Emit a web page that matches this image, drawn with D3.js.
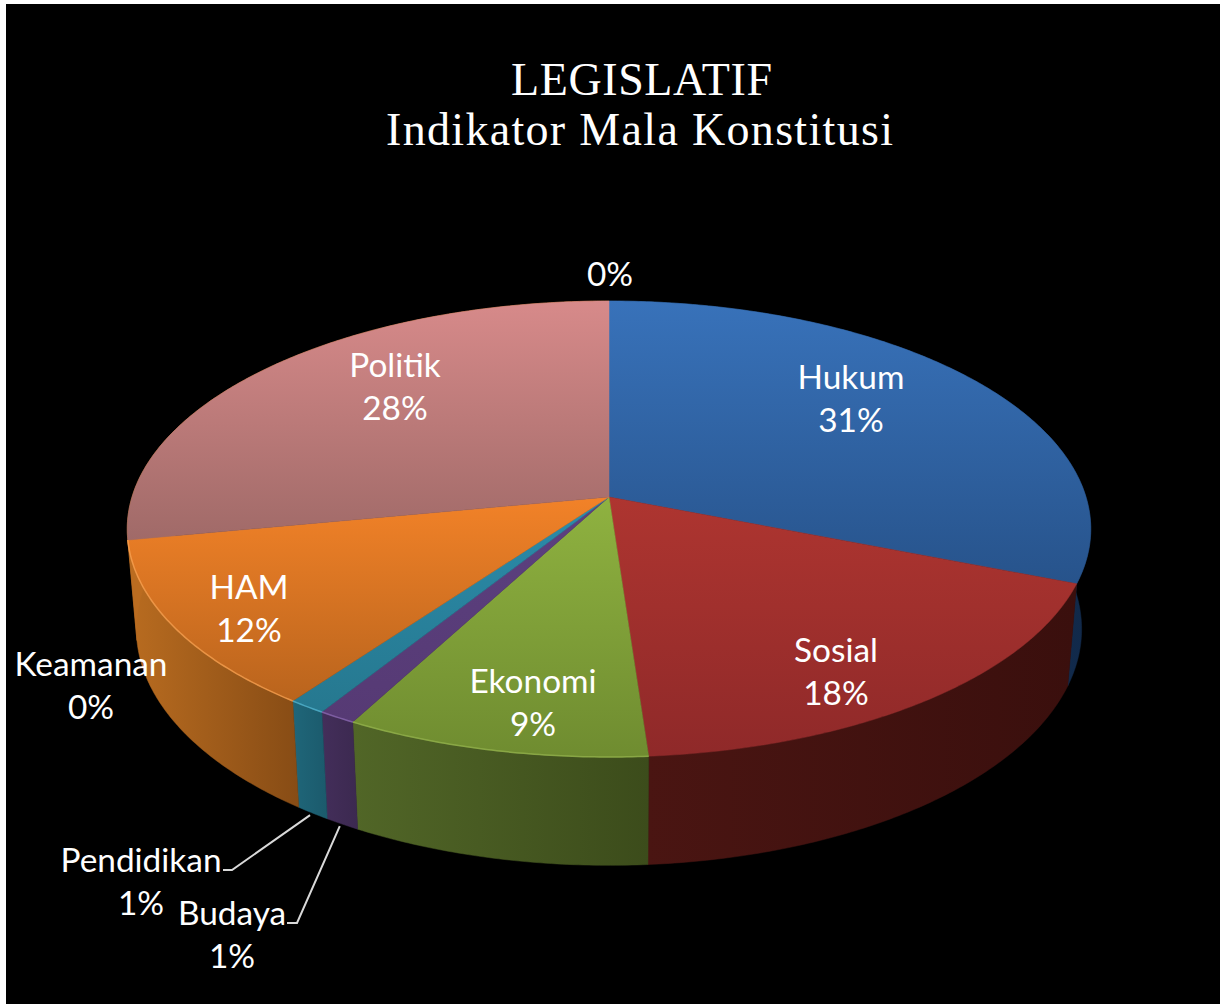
<!DOCTYPE html>
<html>
<head>
<meta charset="utf-8">
<script src="https://cdn.jsdelivr.net/npm/d3@7"></script>
<style>
    html, body { margin: 0; padding: 0; background: #fff; }
    svg { display: block; }
    text { fill: #fff; }
</style>
</head>
<body>
<script>
const categories = ["Hukum", "Sosial", "Ekonomi", "Budaya", "Pendidikan", "HAM", "Keamanan", "Politik", ""]
const values = [31, 17.86, 8.94, 1.1, 1.1, 12, 0, 28, 0]
const titleLines = ["LEGISLATIF", "Indikator Mala Konstitusi"]

// colours: [top face start, top face end, wall start, wall end, rim]
const sliceColors = [
    ["#3872ba", "#27538b", "#173a5e", "#11294a", "none"],
    ["#ae3530", "#8f2929", "#4a1512", "#3a0f0d", "none"],
    ["#8fb240", "#6f8c30", "#516627", "#3c4c1b", "#94b34c"],
    ["#5c4080", "#563a74", "#432e5a", "#3c2950", "#8a68b0"],
    ["#2b8cab", "#26788f", "#1f6679", "#1b5a6c", "#52b4d0"],
    ["#f28228", "#b9641d", "#b96c20", "#874c15", "#f7a050"],
    ["#888", "#888", "#888", "#888", "none"],
    ["#d78a8a", "#a06a68", "#bb6c20", "#bb6c20", "none"],
    ["#888", "#888", "#888", "#888", "none"]
]

// label centres for the first line of each label, in page pixels
const labelPlace = [
    [851, 378], [836, 651], [533, 682], [232, 914], [141, 861],
    [249, 588], [91, 665], [395, 366], [610, 232]
]
const leaderElbows = {
    Budaya: [[297, 923], [287, 923]],
    Pendidikan: [[232, 870], [223, 870]]
}
const titlePlace = [[641.5, 95, 261], [639.5, 145, 507]]

const width = 1220, height = 1004

// perspective of the disc: centre, scale and foreshortening
const cx = 609, cy = 497, A = 477, B = 223.5, persp = 0.1403
// lower disc relative to the upper one
const floorX = 0.981, floorY = 1.036, floorCy = 596

const top2d = (t, r = 1) => {
    const u = r * Math.sin(t), v = -r * Math.cos(t)
    const w = 1 - persp * v
    return [cx + A * u / w, cy + B * v / w]
}
const bottom2d = (t, r = 1) => {
    const [x, y] = top2d(t, r)
    return [cx + floorX * (x - cx), floorCy + floorY * (y - cy)]
}
const arcAngles = (a, b) => {
    const n = Math.max(2, Math.ceil((b - a) / 0.01))
    return d3.range(n + 1).map(i => a + (b - a) * i / n)
}

const svg = d3.select("body").append("svg")
    .attr("width", width)
    .attr("height", height)
svg.append("rect").attr("x", 6).attr("y", 4)
    .attr("width", width - 6).attr("height", height - 4)
    .attr("fill", "#000")

const defs = svg.append("defs")
const line = d3.line()
const slices = d3.pie().sort(null).startAngle(0).endAngle(2 * Math.PI)
    .value(d => d)(values)
    .map((s, i) => ({...s, name: categories[i], color: sliceColors[i], i}))
const drawn = slices.filter(s => s.value > 0)

drawn.forEach(s => {
    const angles = arcAngles(s.startAngle, s.endAngle)
    s.topPts = angles.map(t => top2d(t))
    s.botPts = angles.map(t => bottom2d(t))
    const xs = s.topPts.map(p => p[0]).concat(s.botPts.map(p => p[0]))
    const ys = s.topPts.map(p => p[1]).concat([cy])

    const topGrad = defs.append("linearGradient").attr("id", "top" + s.i)
        .attr("gradientUnits", "userSpaceOnUse")
        .attr("x1", 0).attr("x2", 0)
        .attr("y1", d3.min(ys)).attr("y2", d3.max(ys))
    topGrad.append("stop").attr("offset", 0).attr("stop-color", s.color[0])
    topGrad.append("stop").attr("offset", 1).attr("stop-color", s.color[1])

    const wallGrad = defs.append("linearGradient").attr("id", "wall" + s.i)
        .attr("gradientUnits", "userSpaceOnUse")
        .attr("y1", 0).attr("y2", 0)
        .attr("x1", d3.min(xs)).attr("x2", d3.max(xs))
    wallGrad.append("stop").attr("offset", 0).attr("stop-color", s.color[2])
    wallGrad.append("stop").attr("offset", 1).attr("stop-color", s.color[3])
})

// side walls first, the top faces cover whatever is behind them
svg.append("g").selectAll("path")
    .data(drawn)
    .enter()
    .append("path")
    .attr("d", s => line(s.topPts.concat(s.botPts.slice().reverse())) + "Z")
    .attr("fill", s => `url(#wall${s.i})`)
    .attr("stroke", s => `url(#wall${s.i})`)
    .attr("stroke-width", 0.5)

svg.append("g").selectAll("path")
    .data(drawn)
    .enter()
    .append("path")
    .attr("d", s => line([[cx, cy]].concat(s.topPts)) + "Z")
    .attr("fill", s => `url(#top${s.i})`)
    .attr("stroke", s => `url(#top${s.i})`)
    .attr("stroke-width", 0.5)

// light bevel on the edge of the top face
svg.append("g").selectAll("path")
    .data(drawn)
    .enter()
    .append("path")
    .attr("d", s => line(s.topPts))
    .attr("fill", "none")
    .attr("stroke", s => s.color[4])
    .attr("stroke-width", 1.5)
    .attr("opacity", 0.8)

// leader lines
svg.append("g").selectAll("path")
    .data(drawn.filter(s => leaderElbows[s.name]))
    .enter()
    .append("path")
    .attr("d", s => line([bottom2d((s.startAngle + s.endAngle) / 2, 1.008)].concat(leaderElbows[s.name])))
    .attr("fill", "none")
    .attr("stroke", "#d9d9d9")
    .attr("stroke-width", 2)

// labels
const labels = svg.append("g")
    .attr("font-family", "Lato, sans-serif")
    .attr("font-size", 33.4)
    .attr("text-anchor", "middle")
slices.forEach((s, i) => {
    const [x, y] = labelPlace[i]
    if (s.name) labels.append("text").attr("x", x).attr("y", y + 11).text(s.name)
    labels.append("text").attr("x", x).attr("y", y + 54).text(Math.round(s.value) + "%")
})

// title
svg.append("g")
    .attr("font-family", "'Liberation Serif', serif")
    .attr("font-size", 46)
    .attr("text-anchor", "middle")
    .selectAll("text")
    .data(titleLines)
    .enter()
    .append("text")
    .attr("x", (d, i) => titlePlace[i][0])
    .attr("y", (d, i) => titlePlace[i][1])
    .attr("textLength", (d, i) => titlePlace[i][2])
    .attr("lengthAdjust", "spacing")
    .text(d => d)
</script>
</body>
</html>
